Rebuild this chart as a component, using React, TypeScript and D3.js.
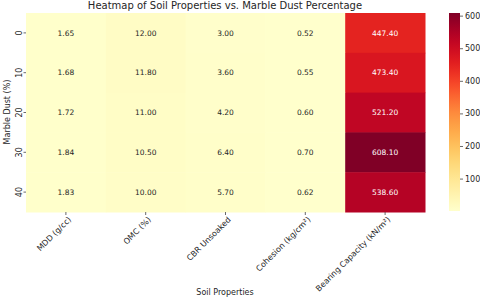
import React, { useEffect, useRef } from 'react';
import * as d3 from 'd3';

const properties = ['MDD (g/cc)', 'OMC (%)', 'CBR Unsoaked', 'Cohesion (kg/cm²)', 'Bearing Capacity (kN/m²)'];
const dustLevels = ['0', '10', '20', '30', '40'];
const mdd = [1.65, 1.68, 1.72, 1.84, 1.83];
const omc = [12.0, 11.8, 11.0, 10.5, 10.0];
const cbr = [3.0, 3.6, 4.2, 6.4, 5.7];
const cohesion = [0.52, 0.55, 0.6, 0.7, 0.62];
const bearing = [447.4, 473.4, 521.2, 608.1, 538.6];
const cbarTicks = [100, 200, 300, 400, 500, 600];

const App = () => {
    const svgRef = useRef<SVGSVGElement>(null);

    useEffect(() => {
        const width = 480;
        const height = 299;
        const svg = d3.select(svgRef.current)
            .attr('width', width)
            .attr('height', height);
        svg.selectAll('*').remove();

        const font = 'DejaVu Sans, sans-serif';
        const columns = [mdd, omc, cbr, cohesion, bearing];
        const cells: { row: string; col: string; v: number }[] = [];
        dustLevels.forEach((r, i) => {
            properties.forEach((c, j) => {
                cells.push({ row: r, col: c, v: columns[j][i] });
            });
        });
        const all = cells.map(d => d.v);
        const vmin = d3.min(all) as number;
        const vmax = d3.max(all) as number;

        const x = d3.scaleBand().domain(properties).range([26, 425]);
        const y = d3.scaleBand().domain(dustLevels).range([13, 212]);
        const color = d3.scaleSequential(d3.interpolateYlOrRd).domain([vmin, vmax]);

        svg.selectAll('.cell')
            .data(cells)
            .enter()
            .append('rect')
            .attr('x', d => x(d.col) as number)
            .attr('y', d => y(d.row) as number)
            .attr('width', x.bandwidth() + 0.5)
            .attr('height', y.bandwidth() + 0.5)
            .attr('fill', d => color(d.v));

        svg.selectAll('.ann')
            .data(cells)
            .enter()
            .append('text')
            .attr('x', d => (x(d.col) as number) + x.bandwidth() / 2)
            .attr('y', d => (y(d.row) as number) + y.bandwidth() / 2)
            .attr('dy', '0.35em')
            .attr('text-anchor', 'middle')
            .style('font-family', font)
            .style('font-size', '7.5px')
            .attr('fill', d => ((d.v - vmin) / (vmax - vmin) > 0.5 ? '#fff' : '#262626'))
            .text(d => d.v.toFixed(2));

        // x axis
        const xAxis = svg.append('g')
            .attr('transform', 'translate(0,212)')
            .call(d3.axisBottom(x).tickSize(3).tickPadding(2));
        xAxis.select('.domain').remove();
        xAxis.selectAll('line').attr('stroke', '#444').attr('stroke-width', 0.8);
        xAxis.selectAll('text')
            .attr('transform', 'rotate(-45)')
            .style('text-anchor', 'end')
            .style('font-family', font)
            .style('font-size', '8px')
            .attr('fill', '#262626')
            .attr('dx', '-0.2em')
            .attr('dy', '0.6em');

        // y axis
        const yAxis = svg.append('g')
            .attr('transform', 'translate(26,0)')
            .call(d3.axisLeft(y).tickSize(2.5).tickPadding(2));
        yAxis.select('.domain').remove();
        yAxis.selectAll('line').attr('stroke', '#444').attr('stroke-width', 0.8);
        yAxis.selectAll('text')
            .attr('transform', 'rotate(-90)')
            .attr('x', 0)
            .attr('y', -4)
            .attr('dy', '0')
            .style('text-anchor', 'middle')
            .style('font-family', font)
            .style('font-size', '8px')
            .attr('fill', '#262626');

        // colorbar
        const cbX = 449;
        const cbW = 11;
        const cy = d3.scaleLinear().domain([vmin, vmax]).range([211, 13]);
        const defs = svg.append('defs');
        const grad = defs.append('linearGradient')
            .attr('id', 'cbar')
            .attr('x1', 0).attr('y1', 1).attr('x2', 0).attr('y2', 0);
        d3.range(0, 1.0001, 0.05).forEach(t => {
            grad.append('stop')
                .attr('offset', t)
                .attr('stop-color', d3.interpolateYlOrRd(t));
        });
        svg.append('rect')
            .attr('x', cbX)
            .attr('y', 13)
            .attr('width', cbW)
            .attr('height', 198)
            .attr('fill', 'url(#cbar)');
        const cAxis = svg.append('g')
            .attr('transform', `translate(${cbX + cbW},0)`)
            .call(d3.axisRight(cy).tickValues(cbarTicks).tickSize(3).tickPadding(2));
        cAxis.select('.domain').remove();
        cAxis.selectAll('line').attr('stroke', '#444').attr('stroke-width', 0.8);
        cAxis.selectAll('text')
            .style('font-family', font)
            .style('font-size', '8px')
            .attr('fill', '#262626');

        // titles
        svg.append('text')
            .attr('x', 225)
            .attr('y', 9)
            .attr('text-anchor', 'middle')
            .style('font-family', font)
            .style('font-size', '10px')
            .attr('fill', '#262626')
            .text('Heatmap of Soil Properties vs. Marble Dust Percentage');

        svg.append('text')
            .attr('x', 225)
            .attr('y', 295)
            .attr('text-anchor', 'middle')
            .style('font-family', font)
            .style('font-size', '8px')
            .attr('fill', '#262626')
            .text('Soil Properties');

        svg.append('text')
            .attr('transform', 'rotate(-90)')
            .attr('x', -112)
            .attr('y', 10)
            .attr('text-anchor', 'middle')
            .style('font-family', font)
            .style('font-size', '8px')
            .attr('fill', '#262626')
            .text('Marble Dust (%)');
    }, []);

    return (
        <div style={{ position: 'absolute', left: 0, top: 0 }}>
            <svg ref={svgRef}></svg>
        </div>
    );
};

export default App;
